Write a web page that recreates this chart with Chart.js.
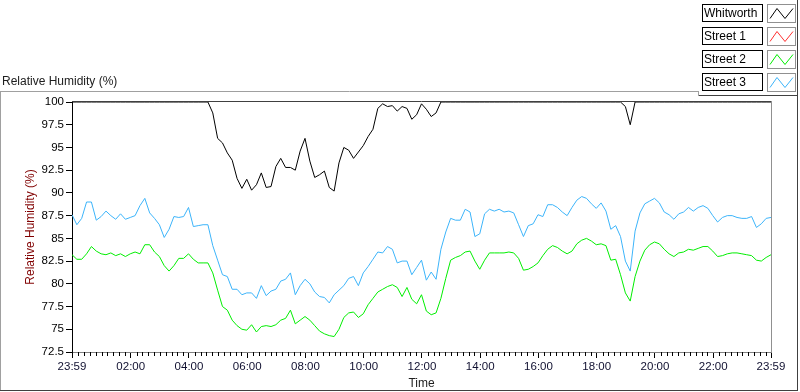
<!DOCTYPE html>
<html>
<head>
<meta charset="utf-8">
<title>Relative Humidity</title>
<script src="https://cdn.jsdelivr.net/npm/chart.js@4.4.1/dist/chart.umd.min.js"></script>
<style>
  html, body { margin: 0; padding: 0; background: #fff; }
  #wrap { width: 800px; height: 392px; }
</style>
</head>
<body>
<div id="wrap"><canvas id="chart" width="800" height="392"></canvas></div>
<script>
const FONT = "'Liberation Sans', Arial, sans-serif";

// minutes after 23:59, one reading every 10 min
const times = Array.from({ length: 145 }, (_, i) => i * 10);

const seriesNames = ["Whitworth", "Street 1", "Street 2", "Street 3"];
const seriesColors = ["#000000", "#ff3030", "#00ee00", "#3cb4fa"];

const whitworth = [
  100, 100, 100, 100, 100, 100, 100, 100, 100, 100,
  100, 100, 100, 100, 100, 100, 100, 100, 100, 100,
  100, 100, 100, 100, 100, 100, 100, 100, 100, 98.8,
  96.0, 95.5, 94.4, 93.6, 91.6, 90.5, 91.5, 90.3, 90.9, 92.2,
  90.6, 90.7, 92.9, 93.8, 92.8, 92.8, 92.5, 94.6, 96.0, 93.5,
  91.7, 92.0, 92.4, 90.6, 90.2, 93.3, 95.0, 94.7, 93.8, 94.5,
  95.2, 96.2, 97.0, 99.3, 99.8, 99.5, 99.6, 99.0, 99.5, 99.3,
  98.1, 98.6, 99.8, 99.2, 98.4, 98.8, 100, 100, 100, 100,
  100, 100, 100, 100, 100, 100, 100, 100, 100, 100,
  100, 100, 100, 100, 100, 100, 100, 100, 100, 100,
  100, 100, 100, 100, 100, 100, 100, 100, 100, 100,
  100, 100, 100, 100, 99.5, 97.5, 100, 100, 100, 100,
  100, 100, 100, 100, 100, 100, 100, 100, 100, 100,
  100, 100, 100, 100, 100, 100, 100, 100, 100, 100,
  100, 100, 100, 100, 100
];

const street1 = [];

const street2 = [
  83.2, 82.7, 82.7, 83.3, 84.1, 83.6, 83.3, 83.2, 83.4, 83.1,
  83.3, 83.0, 83.3, 83.5, 83.3, 84.3, 84.3, 83.5, 83.0, 82.0,
  81.4, 82.0, 82.8, 82.8, 83.3, 82.7, 82.3, 82.3, 82.3, 81.2,
  79.3, 77.5, 77.1, 76.0, 75.4, 75.0, 74.9, 75.5, 74.7, 75.3,
  75.4, 75.3, 75.5, 76.0, 76.2, 77.1, 75.6, 76.0, 76.4, 76.0,
  75.4, 74.8, 74.5, 74.3, 74.2, 75.0, 76.3, 76.8, 76.9, 76.3,
  76.7, 77.7, 78.4, 79.1, 79.4, 79.7, 79.9, 79.6, 78.6, 79.6,
  78.3, 77.8, 78.8, 77.0, 76.6, 76.8, 78.4, 80.6, 82.6, 82.9,
  83.1, 83.5, 83.6, 82.5, 81.6, 82.6, 83.4, 83.4, 83.4, 83.4,
  83.5, 83.4, 82.8, 81.5, 81.6, 81.9, 82.3, 83.1, 83.8, 84.2,
  84.0, 83.6, 83.3, 83.6, 84.4, 84.8, 85.0, 84.7, 84.3, 84.4,
  84.2, 82.6, 82.7, 81.0, 79.0, 78.1, 80.8, 82.5, 83.7, 84.3,
  84.6, 84.4, 83.8, 83.3, 83.0, 83.4, 83.5, 83.8, 83.7, 83.9,
  84.1, 84.1, 83.6, 83.0, 83.1, 83.3, 83.4, 83.4, 83.3, 83.2,
  83.1, 82.6, 82.5, 82.9, 83.2
];

const street3 = [
  87.6, 86.5, 87.2, 89.0, 89.0, 87.0, 87.4, 88.0, 87.5, 87.1,
  87.7, 87.1, 87.3, 87.5, 88.6, 89.4, 87.8, 87.2, 86.5, 85.1,
  86.0, 87.4, 87.3, 87.4, 88.4, 86.3, 86.4, 86.5, 86.5, 84.2,
  82.6, 81.0, 80.8, 79.4, 79.4, 78.8, 79.0, 79.0, 78.4, 79.8,
  78.7, 79.2, 79.4, 80.3, 80.5, 81.2, 78.8, 79.8, 80.5, 80.0,
  79.1, 78.6, 78.5, 77.9, 78.8, 79.3, 79.8, 80.6, 80.8, 79.8,
  81.2, 81.9, 82.7, 83.5, 83.4, 84.1, 83.8, 82.3, 82.5, 82.5,
  81.0, 81.8, 82.6, 80.4, 81.3, 80.5, 83.8, 85.7, 87.2, 87.0,
  87.0, 88.2, 87.9, 85.2, 85.5, 87.7, 88.2, 88.0, 88.2, 87.9,
  88.0, 87.8, 86.5, 85.2, 86.4, 86.6, 87.6, 87.4, 88.7, 88.7,
  88.4, 87.9, 87.5, 88.4, 89.2, 89.6, 89.4, 88.8, 88.3, 88.9,
  88.0, 86.0, 86.4, 85.2, 82.5, 81.4, 85.8, 87.8, 88.8, 89.1,
  89.4, 88.9, 87.9, 87.6, 87.1, 87.7, 87.9, 88.4, 88.0, 88.4,
  88.6, 88.3, 87.5, 86.8, 87.3, 87.5, 87.5, 87.3, 87.2, 87.2,
  87.4, 86.2, 86.6, 87.2, 87.3
];

const yTicks = [72.5, 75, 77.5, 80, 82.5, 85, 87.5, 90, 92.5, 95, 97.5, 100];
const xTickMinutes = [0, 121, 241, 361, 481, 601, 721, 841, 961, 1081, 1201, 1321, 1440];
const xTickLabels = ["23:59", "02:00", "04:00", "06:00", "08:00", "10:00", "12:00",
  "14:00", "16:00", "18:00", "20:00", "22:00", "23:59"];

const allSeries = [whitworth, street1, street2, street3];

function hline(ctx, x1, x2, y) {
  ctx.beginPath(); ctx.moveTo(x1, y); ctx.lineTo(x2, y); ctx.stroke();
}
function vline(ctx, x, y1, y2) {
  ctx.beginPath(); ctx.moveTo(x, y1); ctx.lineTo(x, y2); ctx.stroke();
}

// frame, titles, minor ticks and the LabVIEW style legend
const decorations = {
  id: "decorations",
  afterDraw(chart) {
    const { ctx, chartArea: a } = chart;
    const xs = chart.scales.x;
    ctx.save();
    ctx.lineWidth = 1;

    // plot border (top / right)
    ctx.strokeStyle = "#404040";
    hline(ctx, a.left, a.right, Math.round(a.top) - 0.5);
    ctx.strokeStyle = "#909090";
    vline(ctx, Math.round(a.right) + 0.5, a.top - 1, a.bottom);

    // minor ticks every 12 min
    ctx.strokeStyle = "#000";
    for (let m = 13; m < 1440; m += 12) {
      if ((m - 1) % 120 === 0) continue;
      const px = Math.round(xs.getPixelForValue(m)) + 0.5;
      vline(ctx, px, a.bottom, a.bottom + 4);
    }

    // outer frame
    ctx.strokeStyle = "#a0a0a0";
    hline(ctx, 0, 699, 91.5);
    vline(ctx, 0.5, 91.5, 391);
    ctx.strokeStyle = "#404040";
    hline(ctx, 0, 798, 390.5);
    vline(ctx, 797.5, 0, 391);
    hline(ctx, 699, 798, 95.5);
    ctx.strokeStyle = "#a0a0a0";
    vline(ctx, 698.5, 91, 96);

    // titles
    ctx.font = "12px " + FONT;
    ctx.fillStyle = "#202020";
    ctx.textBaseline = "middle";
    ctx.textAlign = "left";
    ctx.fillText("Relative Humidity (%)", 2, 82);

    ctx.textAlign = "center";
    ctx.fillText("Time", (a.left + a.right) / 2, 384);

    ctx.save();
    ctx.translate(31, (a.top + a.bottom) / 2);
    ctx.rotate(-Math.PI / 2);
    ctx.fillStyle = "#800000";
    ctx.fillText("Relative Humidity (%)", 0, 0);
    ctx.restore();

    // legend
    const rowTop = [4, 27, 50, 73];
    seriesNames.forEach((name, i) => {
      const y = rowTop[i] + 0.5;
      ctx.fillStyle = "#fff";
      ctx.fillRect(702.5, y, 60, 17);
      ctx.strokeStyle = "#000";
      ctx.strokeRect(702.5, y, 60, 17);
      ctx.fillStyle = "#000";
      ctx.textAlign = "left";
      ctx.fillText(name, 704, y + 9);

      ctx.fillStyle = "#fff";
      ctx.fillRect(767.5, y, 28, 18);
      ctx.strokeStyle = "#909090";
      ctx.strokeRect(767.5, y, 28, 18);
      ctx.strokeStyle = seriesColors[i];
      ctx.beginPath();
      ctx.moveTo(770, y + 14);
      ctx.lineTo(777, y + 4);
      ctx.lineTo(785, y + 14);
      ctx.lineTo(793, y + 4);
      ctx.stroke();
    });
    ctx.restore();
  }
};

new Chart(document.getElementById("chart"), {
  type: "line",
  data: {
    datasets: seriesNames.map((name, i) => ({
      label: name,
      data: allSeries[i].map((v, k) => ({ x: times[k], y: v })),
      borderColor: seriesColors[i],
      borderWidth: 1,
      pointRadius: 0,
      tension: 0,
      fill: false
    }))
  },
  options: {
    responsive: false,
    animation: false,
    devicePixelRatio: 1,
    layout: { padding: { left: 0, right: 29, top: 102, bottom: 0 } },
    plugins: {
      legend: { display: false },
      tooltip: { enabled: false }
    },
    scales: {
      x: {
        type: "linear",
        min: 0,
        max: 1440,
        afterBuildTicks: s => { s.ticks = xTickMinutes.map(v => ({ value: v })); },
        afterFit: s => { s.height = 40; },
        ticks: {
          autoSkip: false,
          maxRotation: 0,
          padding: 2,
          color: "#101030",
          font: { family: FONT, size: 11.5 },
          callback: (v, i) => xTickLabels[i]
        },
        grid: { drawOnChartArea: false, tickLength: 6, color: "#000" },
        border: { color: "#808080" }
      },
      y: {
        min: 72.5,
        max: 100,
        afterBuildTicks: s => { s.ticks = yTicks.map(v => ({ value: v })); },
        afterFit: s => { s.width = 72; },
        ticks: {
          padding: 2,
          color: "#000",
          font: { family: FONT, size: 11.5 }
        },
        grid: { drawOnChartArea: false, tickLength: 6, color: "#000" },
        border: { color: "#000" }
      }
    }
  },
  plugins: [decorations]
});
</script>
</body>
</html>
